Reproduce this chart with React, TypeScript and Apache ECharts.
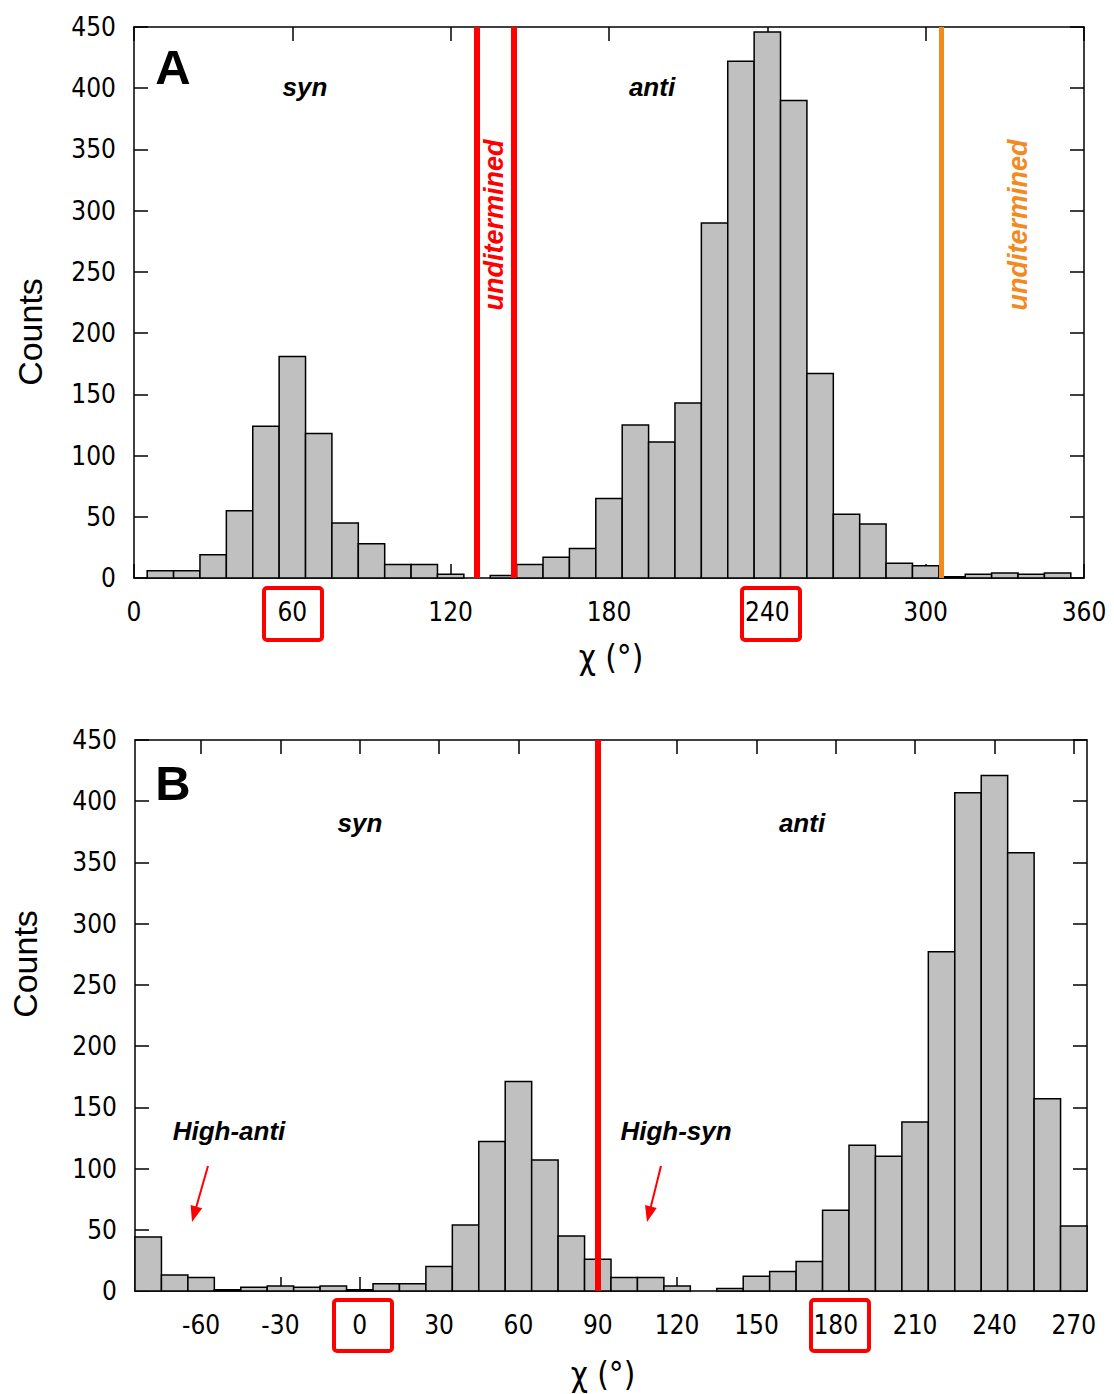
import React, { useEffect, useRef } from "react";
import * as echarts from "echarts";

// Panel A: bin centres (deg) and counts
const chiA = [10, 20, 30, 40, 50, 60, 70, 80, 90, 100, 110, 120, 130, 140, 150, 160, 170, 180, 190, 200, 210, 220, 230, 240, 250, 260, 270, 280, 290, 300, 310, 320, 330, 340, 350];
const countsA = [6, 6, 19, 55, 124, 181, 118, 45, 28, 11, 11, 3, 0, 2, 11, 17, 24, 65, 125, 111, 143, 290, 422, 446, 390, 167, 52, 44, 12, 10, 1, 3, 4, 3, 4];

// Panel B: bin centres (deg) and counts
const chiB = [-80, -70, -60, -50, -40, -30, -20, -10, 0, 10, 20, 30, 40, 50, 60, 70, 80, 90, 100, 110, 120, 130, 140, 150, 160, 170, 180, 190, 200, 210, 220, 230, 240, 250, 260, 270];
const countsB = [44, 13, 11, 1, 3, 4, 3, 4, 1, 6, 6, 20, 54, 122, 171, 107, 45, 26, 11, 11, 4, 0, 2, 12, 16, 24, 66, 119, 110, 138, 277, 407, 421, 358, 157, 53];

const xTicksB = [-60, -30, 0, 30, 60, 90, 120, 150, 180, 210, 240, 270];
const boundariesA = [130, 144];
const boundaryA2 = [306];
const boundariesB = [90];

const BIN = 10;
const TICK_FONT = '"DejaVu Sans Condensed", "DejaVu Sans", sans-serif';

function txt(text: string, x: number, y: number, font: string, fill = "#000", rotation = 0) {
  return {
    type: "text",
    x,
    y,
    rotation,
    z: 100,
    style: {
      text,
      font,
      fill,
      align: "center",
      verticalAlign: "middle",
      textAlign: "center",
      textVerticalAlign: "middle",
    },
  };
}

function arrow(x0: number, y0: number, x1: number, y1: number) {
  const dx = x1 - x0;
  const dy = y1 - y0;
  const L = Math.sqrt(dx * dx + dy * dy);
  const ux = dx / L;
  const uy = dy / L;
  const hl = 16;
  const hw = 6;
  const bx = x1 - hl * ux;
  const by = y1 - hl * uy;
  const px = -uy;
  const py = ux;
  return [
    { type: "line", z: 100, shape: { x1: x0, y1: y0, x2: bx + ux * 2, y2: by + uy * 2 }, style: { stroke: "#ff0000", lineWidth: 2 } },
    {
      type: "polygon",
      z: 100,
      shape: { points: [[x1, y1], [bx + px * hw, by + py * hw], [bx - px * hw, by - py * hw]] },
      style: { fill: "#ff0000" },
    },
  ];
}

function box(x: number, y: number, w: number, h: number) {
  return {
    type: "rect",
    z: 100,
    shape: { x, y, width: w, height: h, r: 3 },
    style: { fill: "none", stroke: "#ff0000", lineWidth: 4 },
  };
}

const renderBar = (params: any, api: any) => {
  const x = api.value(0);
  const y = api.value(1);
  if (!y) return null;
  const p1 = api.coord([x - BIN / 2, y]);
  const p2 = api.coord([x + BIN / 2, 0]);
  return {
    type: "rect",
    shape: { x: p1[0], y: p1[1], width: p2[0] - p1[0], height: p2[1] - p1[1] },
    style: { fill: "#c0c0c0", stroke: "#000", lineWidth: 1.5 },
  };
};

export default function App() {
  const ref = useRef<HTMLDivElement>(null);
  useEffect(() => {
    if (!ref.current) return;
    const chart = echarts.init(ref.current, undefined, { renderer: "svg" });
    const axisLine = { show: true, onZero: false, lineStyle: { color: "#000", width: 1.5 } };
    const tickStyle = { show: true, inside: true, length: 14, lineStyle: { color: "#000", width: 1.5 } };
    const lbl = { color: "#000", fontFamily: TICK_FONT, fontSize: 26 };

    const yAxisBase = (gi: number, pos: string, showLabel: boolean) => ({
      type: "value",
      gridIndex: gi,
      position: pos,
      min: 0,
      max: 450,
      interval: 50,
      axisLine,
      axisTick: tickStyle,
      splitLine: { show: false },
      axisLabel: showLabel ? { ...lbl, margin: 18 } : { show: false },
    });

    const bi = 'italic bold 26px "Liberation Sans", Arial, sans-serif';

    const option: any = {
      animation: false,
      backgroundColor: "#fff",
      grid: [
        { left: 134, top: 27, width: 950, height: 551, show: false },
        { left: 135, top: 740, width: 952, height: 551, show: false },
      ],
      xAxis: [
        {
          type: "value", gridIndex: 0, position: "bottom", min: 0, max: 360, interval: 60,
          axisLine, axisTick: tickStyle, splitLine: { show: false },
          axisLabel: { ...lbl, margin: 21, showMinLabel: true, showMaxLabel: true },
        },
        {
          type: "value", gridIndex: 0, position: "top", min: 0, max: 360, interval: 60,
          axisLine, axisTick: tickStyle, splitLine: { show: false }, axisLabel: { show: false },
        },
        {
          type: "value", gridIndex: 1, position: "bottom", min: -85, max: 275,
          axisLine,
          axisTick: { ...tickStyle, customValues: xTicksB },
          splitLine: { show: false },
          axisLabel: { ...lbl, margin: 21, customValues: xTicksB },
        },
        {
          type: "value", gridIndex: 1, position: "top", min: -85, max: 275,
          axisLine,
          axisTick: { ...tickStyle, customValues: xTicksB },
          splitLine: { show: false },
          axisLabel: { show: false },
        },
      ],
      yAxis: [
        yAxisBase(0, "left", true),
        yAxisBase(0, "right", false),
        yAxisBase(1, "left", true),
        yAxisBase(1, "right", false),
      ],
      series: [
        {
          type: "custom",
          xAxisIndex: 0,
          yAxisIndex: 0,
          renderItem: renderBar,
          encode: { x: 0, y: 1 },
          data: chiA.map((c, i) => [c, countsA[i]]),
          markLine: {
            silent: true,
            symbol: ["none", "none"],
            label: { show: false },
            lineStyle: { color: "#ff0000", width: 6, type: "solid" },
            data: [
              ...boundariesA.map((v) => ({ xAxis: v })),
              ...boundaryA2.map((v) => ({ xAxis: v, lineStyle: { color: "#f38a1f", width: 5, type: "solid" } })),
            ],
          },
        },
        {
          type: "custom",
          xAxisIndex: 2,
          yAxisIndex: 2,
          renderItem: renderBar,
          encode: { x: 0, y: 1 },
          data: chiB.map((c, i) => [c, countsB[i]]),
          markLine: {
            silent: true,
            symbol: ["none", "none"],
            label: { show: false },
            lineStyle: { color: "#ff0000", width: 6, type: "solid" },
            data: boundariesB.map((v) => ({ xAxis: v })),
          },
        },
      ],
      graphic: [
        txt("A", 173, 67, 'bold 49px "Liberation Sans", Arial, sans-serif'),
        txt("B", 173, 783, 'bold 49px "Liberation Sans", Arial, sans-serif'),
        txt("syn", 305, 87, bi),
        txt("anti", 652, 87, bi),
        txt("syn", 360, 823, bi),
        txt("anti", 802, 823, bi),
        txt("High-anti", 229, 1131, bi),
        txt("High-syn", 676, 1131, bi),
        txt("unditermined", 494, 225, 'italic bold 27px "Liberation Sans", Arial, sans-serif', "#ff0000", Math.PI / 2),
        txt("unditermined", 1018, 225, 'italic bold 27px "Liberation Sans", Arial, sans-serif', "#f38a1f", Math.PI / 2),
        txt("Counts", 30, 332, '34px "Liberation Sans", Arial, sans-serif', "#000", Math.PI / 2),
        txt("Counts", 25, 964, '34px "Liberation Sans", Arial, sans-serif', "#000", Math.PI / 2),
        txt("χ (°)", 611, 657, '33px ' + TICK_FONT),
        txt("χ (°)", 603, 1374, '33px ' + TICK_FONT),
        box(264, 588, 58, 52),
        box(742, 588, 58, 52),
        box(334, 1300, 58, 51),
        box(811, 1300, 58, 51),
        ...arrow(208, 1166, 192, 1222),
        ...arrow(661, 1166, 647, 1222),
      ],
    };
    chart.setOption(option);
    return () => chart.dispose();
  }, []);
  return <div ref={ref} style={{ position: "absolute", left: 0, top: 0, width: 1114, height: 1394, background: "#fff" }} />;
}
